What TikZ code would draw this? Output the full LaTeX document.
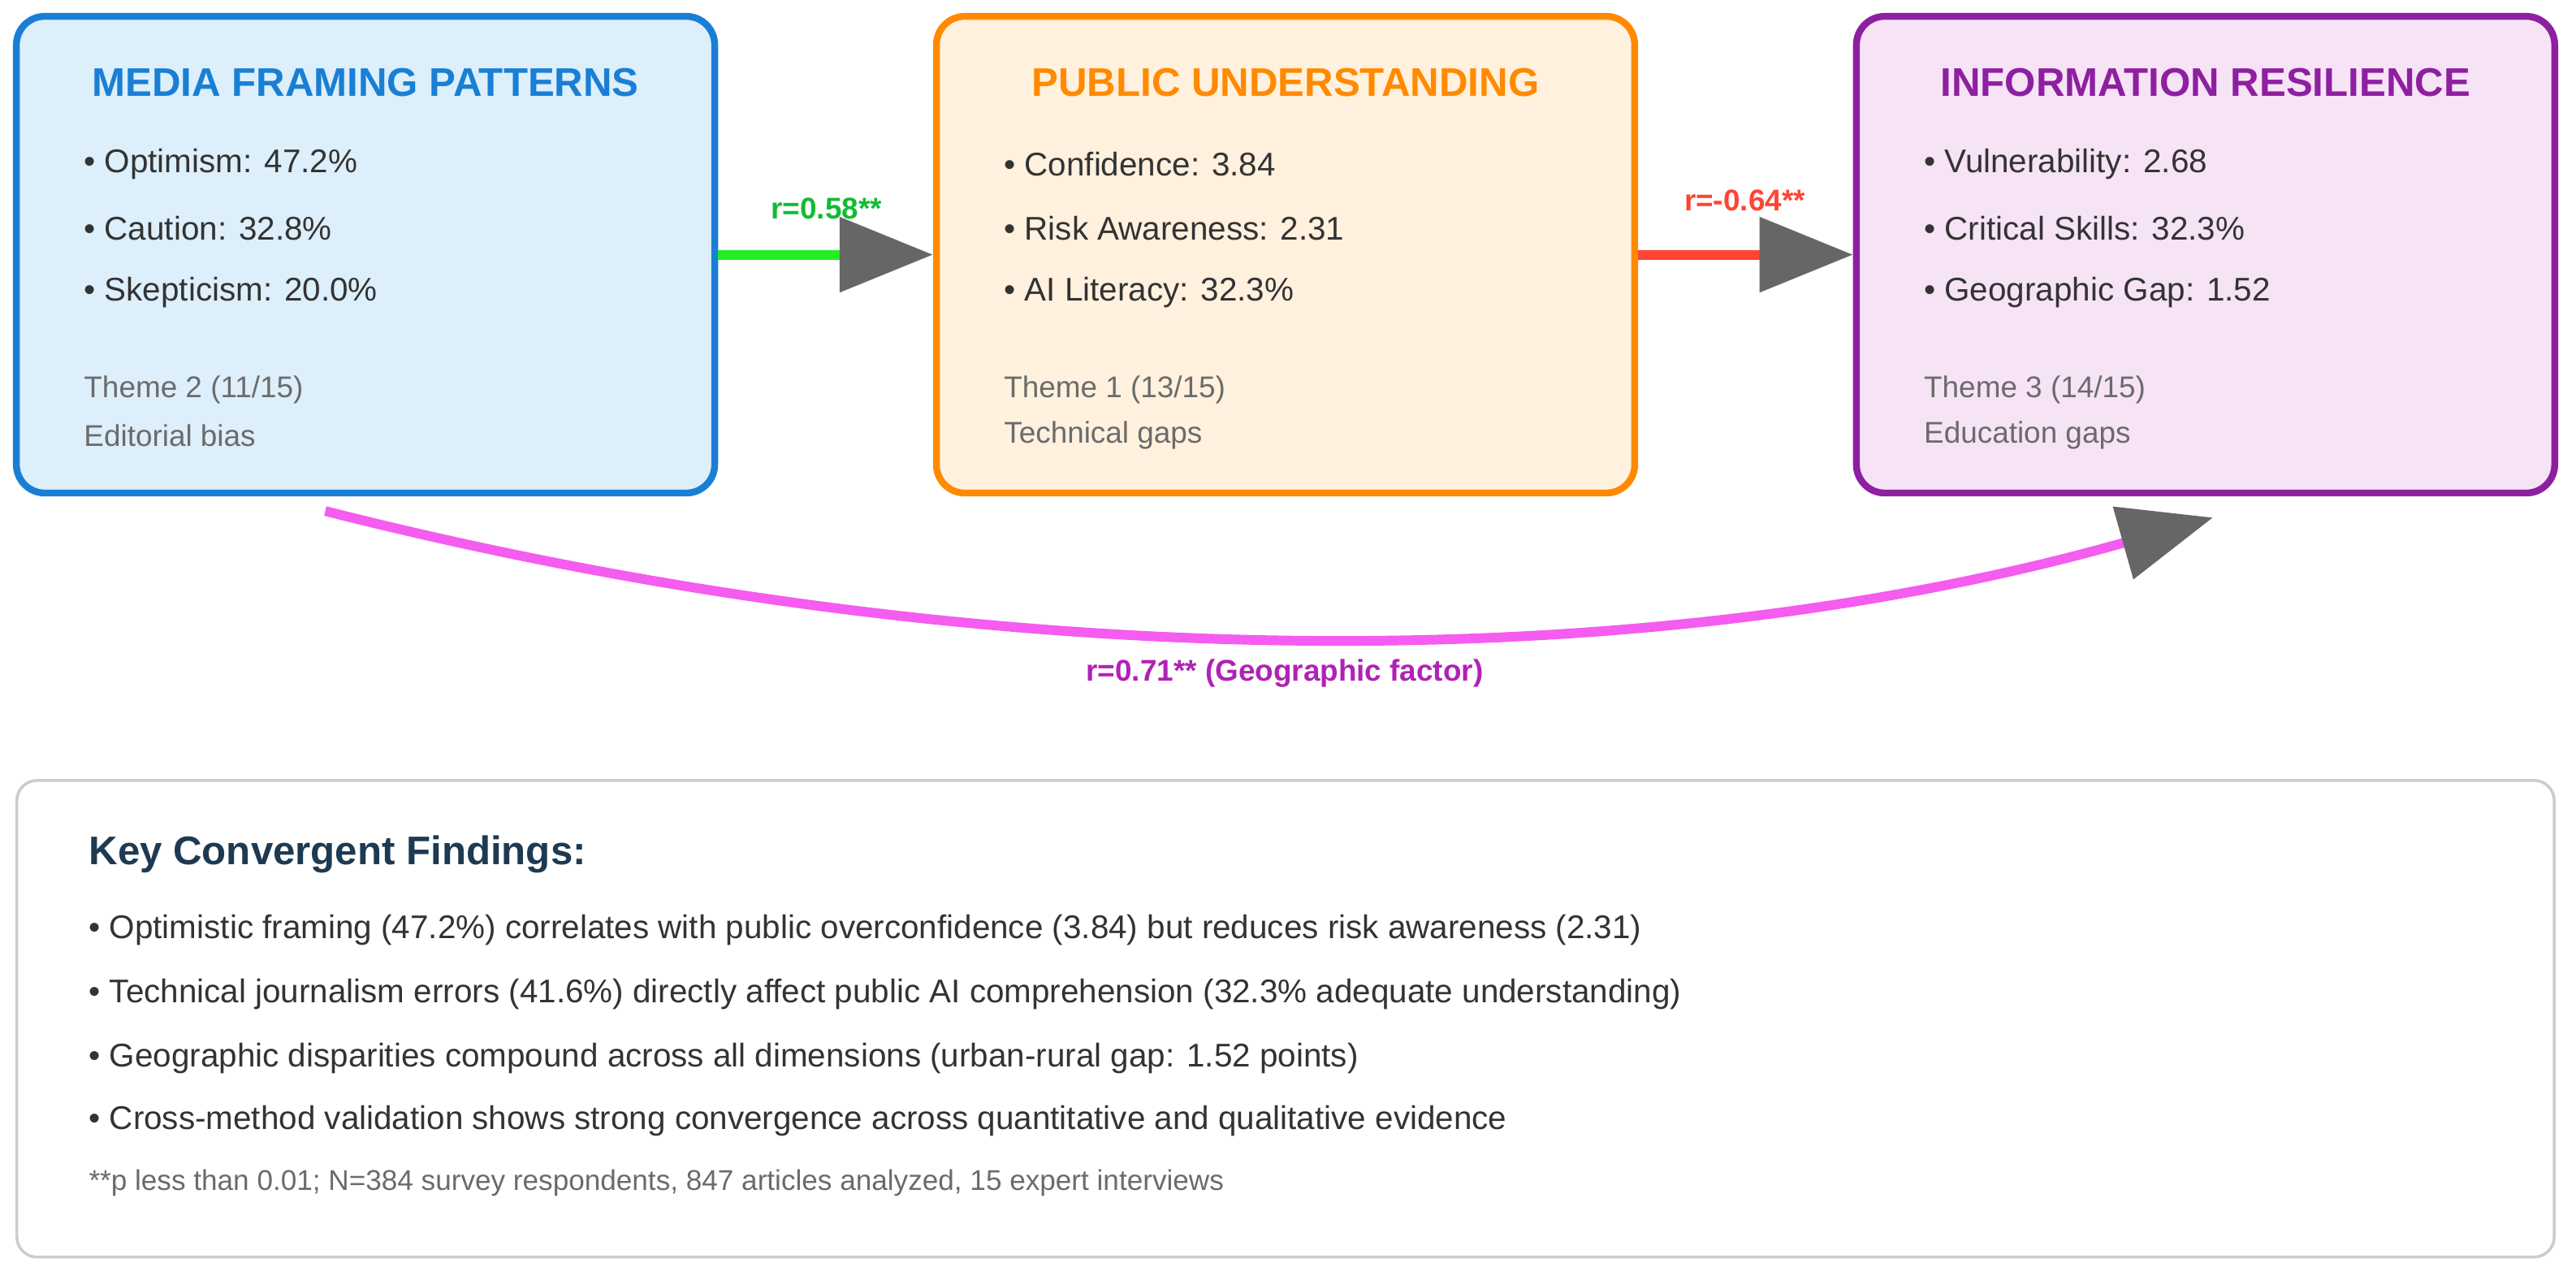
\documentclass[tikz,border=0pt]{standalone}
\usepackage{fontspec}
\setmainfont{Liberation Sans}
\usetikzlibrary{arrows.meta}
\definecolor{cb}{HTML}{1A7FD4}\definecolor{fb}{HTML}{DCEFFB}
\definecolor{co}{HTML}{FF8A00}\definecolor{fo}{HTML}{FFF1DE}
\definecolor{cp}{HTML}{8E1FA0}\definecolor{fp}{HTML}{F7E3F6}
\definecolor{txt}{HTML}{333333}\definecolor{gr}{HTML}{6B6B6B}
\definecolor{navy}{HTML}{1E3A52}\definecolor{ah}{HTML}{666666}
\definecolor{cgreen}{HTML}{22EE22}\definecolor{cred}{HTML}{FF4433}\definecolor{cmag}{HTML}{F55CF0}
\definecolor{lg}{HTML}{11BB33}\definecolor{lm}{HTML}{B022B5}\definecolor{bd}{HTML}{CCCCCC}
\begin{document}
\begin{tikzpicture}[x=0.02023cm,y=-0.02023cm,
 box/.style={draw=#1,line width=2.4pt,rounded corners=0.35cm,minimum width=8.6cm,minimum height=5.87cm,inner sep=0pt},
 ttl/.style={font=\fontsize{14}{16}\selectfont\bfseries,text=#1},
 itm/.style={font=\fontsize{11.5}{13}\selectfont,text=txt,anchor=west},
 thm/.style={font=\fontsize{10.5}{12}\selectfont,text=gr,anchor=west},
 conn/.style={line width=3.4pt,-{Triangle[length=1.15cm,width=0.9cm,fill=ah,color=ah]}},
 lbl/.style={font=\fontsize{10.5}{12}\selectfont\bfseries,text=#1},
 fnd/.style={font=\fontsize{11.5}{13}\selectfont,text=txt,anchor=west}]
\useasboundingbox (0,0) rectangle (1568,776.5);
\fill[white] (0,0) rectangle (1568,776.5);
\node[box=cb,fill=fb] (b1) at (222.5,155) {};
\node[box=co,fill=fo] (b2) at (782.5,155) {};
\node[box=cp,fill=fp] (b3) at (1342.5,155) {};
\node[ttl=cb] (t1) at (222.5,50) {MEDIA FRAMING PATTERNS};
\node[ttl=co] (t2) at (782.5,50) {PUBLIC UNDERSTANDING};
\node[ttl=cp] (t3) at (1342.5,50) {INFORMATION RESILIENCE};
\node[itm] (i11) at (45,100) {• Optimism: 47.2\%};
\node[itm] (i12) at (45,139) {• Caution: 32.8\%};
\node[itm] (i13) at (45,178) {• Skepticism: 20.0\%};
\node[thm] (h11) at (45,237) {Theme 2 (11/15)};
\node[thm] (h12) at (45,265) {Editorial bias};
\node[itm] (i21) at (605,100) {• Confidence: 3.84};
\node[itm] (i22) at (605,139) {• Risk Awareness: 2.31};
\node[itm] (i23) at (605,178) {• AI Literacy: 32.3\%};
\node[thm] (h21) at (605,237) {Theme 1 (13/15)};
\node[thm] (h22) at (605,265) {Technical gaps};
\node[itm] (i31) at (1165,100) {• Vulnerability: 2.68};
\node[itm] (i32) at (1165,139) {• Critical Skills: 32.3\%};
\node[itm] (i33) at (1165,178) {• Geographic Gap: 1.52};
\node[thm] (h31) at (1165,237) {Theme 3 (14/15)};
\node[thm] (h32) at (1165,265) {Education gaps};
\draw[conn,draw=cgreen] (b1.east) -- (b2.west);
\draw[conn,draw=cred] (b2.east) -- (b3.west);
\node[lbl=lg] (l1) at (503,127) {r=0.58**};
\node[lbl=cred] (l2) at (1062,122) {r=-0.64**};
\coordinate (cs) at (198,311);
\coordinate (ce) at (1347,315);
\draw[conn,draw=cmag] (cs) .. controls (600,413) and (1000,413) .. (ce);
\node[lbl=lm] (l3) at (782,410) {r=0.71** (Geographic factor)};
\node[draw=bd,line width=1pt,fill=white,rounded corners=0.25cm,minimum width=31.25cm,minimum height=5.87cm] (bb) at (782.5,620) {};
\node[font=\fontsize{14}{16}\selectfont\bfseries,text=navy,anchor=west] (kh) at (48,520) {Key Convergent Findings:};
\node[fnd] (f1) at (48,566) {• Optimistic framing (47.2\%) correlates with public overconfidence (3.84) but reduces risk awareness (2.31)};
\node[fnd] (f2) at (48,605) {• Technical journalism errors (41.6\%) directly affect public AI comprehension (32.3\% adequate understanding)};
\node[fnd] (f3) at (48,644) {• Geographic disparities compound across all dimensions (urban-rural gap: 1.52 points)};
\node[fnd] (f4) at (48,682) {• Cross-method validation shows strong convergence across quantitative and qualitative evidence};
\node[font=\fontsize{10}{12}\selectfont,text=gr,anchor=west] (fn) at (48,720) {**p less than 0.01; N=384 survey respondents, 847 articles analyzed, 15 expert interviews};
\end{tikzpicture}
\end{document}
